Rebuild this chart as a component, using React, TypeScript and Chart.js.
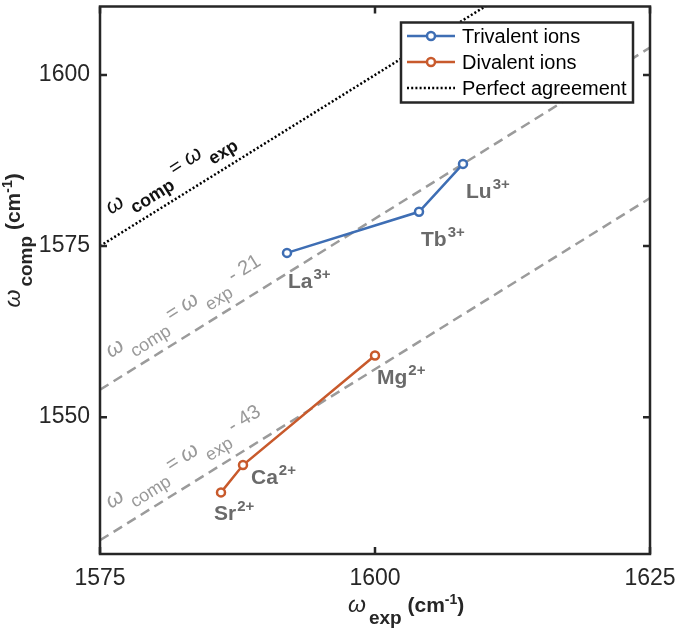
import React, { useEffect, useRef } from "react";
import { Chart, registerables } from "chart.js";

Chart.register(...registerables);

// ---------- data ----------
const trivalentIons = ["La", "Tb", "Lu"];
const trivalentCharge = "3+";
const trivalentExp = [1592, 1604, 1608];
const trivalentComp = [1574, 1580, 1587];

const divalentIons = ["Sr", "Ca", "Mg"];
const divalentCharge = "2+";
const divalentExp = [1586, 1588, 1600];
const divalentComp = [1539, 1543, 1559];

const refOffsets = [0, -21, -43];
const refSuffix = ["", " - 21", " - 43"];
const legendLabels = ["Trivalent ions", "Divalent ions", "Perfect agreement"];

const xRange = [1575, 1625];
const yRange = [1530, 1610];
const xTicks = [1575, 1600, 1625];
const yTicks = [1550, 1575, 1600];
const annotationX = 1575.9;

// ---------- style ----------
const FONT = '"Liberation Sans", Arial, Helvetica, sans-serif';
const AXIS = "#262626";
const BLUE = "#3E6EB4";
const ORANGE = "#C85A2C";
const REF_GRAY = "#9B9B9B";
const LABEL_GRAY = "#6A6A6A";
const triOffsets = [[1, 35], [2, 34], [3, 34]];
const divOffsets = [[-7, 28], [8, 19], [2, 28]];

type Run = { text: string; font: string; dx?: number; dy?: number };

function drawRuns(ctx: CanvasRenderingContext2D, runs: Run[], x: number, y: number) {
  let cx = x;
  for (const r of runs) {
    ctx.font = r.font;
    cx += r.dx || 0;
    ctx.fillText(r.text, cx, y + (r.dy || 0));
    cx += ctx.measureText(r.text).width;
  }
  return cx - x;
}

const framePlugin = {
  id: "frame",
  afterDatasetsDraw(chart: any) {
    const { ctx, chartArea: a, scales } = chart;
    const xs = scales.x, ys = scales.y;
    ctx.save();
    ctx.strokeStyle = AXIS;
    ctx.lineWidth = 2.5;
    ctx.setLineDash([]);
    ctx.strokeRect(a.left, a.top, a.right - a.left, a.bottom - a.top);
    const tl = 7;
    ctx.beginPath();
    for (const v of xTicks) {
      const px = xs.getPixelForValue(v);
      ctx.moveTo(px, a.bottom); ctx.lineTo(px, a.bottom - tl);
      ctx.moveTo(px, a.top); ctx.lineTo(px, a.top + tl);
    }
    for (const v of yTicks) {
      const py = ys.getPixelForValue(v);
      ctx.moveTo(a.left, py); ctx.lineTo(a.left + tl, py);
      ctx.moveTo(a.right, py); ctx.lineTo(a.right - tl, py);
    }
    ctx.stroke();
    ctx.restore();
  },
};

const annotationPlugin = {
  id: "refAnnotations",
  afterDatasetsDraw(chart: any) {
    const { ctx, scales } = chart;
    const xs = scales.x, ys = scales.y;
    refOffsets.forEach((off, i) => {
      const x1 = xs.getPixelForValue(xRange[0]);
      const y1 = ys.getPixelForValue(xRange[0] + off);
      const x2 = xs.getPixelForValue(xRange[1]);
      const y2 = ys.getPixelForValue(xRange[1] + off);
      const ang = Math.atan2(y2 - y1, x2 - x1);
      const px = xs.getPixelForValue(annotationX);
      const py = ys.getPixelForValue(annotationX + off);
      const black = off === 0;
      const w = black ? "bold " : "";
      ctx.save();
      ctx.translate(px, py);
      ctx.rotate(ang);
      ctx.fillStyle = black ? "#111111" : "#999999";
      ctx.textBaseline = "alphabetic";
      const runs: Run[] = [
        { text: "\u03C9", font: `italic 22px ${FONT}` },
        { text: "comp", font: `${w}18px ${FONT}`, dx: 4, dy: 12 },
        { text: " = ", font: `20px ${FONT}` },
        { text: "\u03C9", font: `italic 22px ${FONT}` },
        { text: "exp", font: `${w}18px ${FONT}`, dx: 4, dy: 12 },
      ];
      if (refSuffix[i]) runs.push({ text: refSuffix[i], font: `20px ${FONT}` });
      drawRuns(ctx, runs, 14, -21);
      ctx.restore();
    });
  },
};

const ionLabelPlugin = {
  id: "ionLabels",
  afterDatasetsDraw(chart: any) {
    const { ctx } = chart;
    const groups = [
      { ds: 3, names: trivalentIons, charge: trivalentCharge, offs: triOffsets },
      { ds: 4, names: divalentIons, charge: divalentCharge, offs: divOffsets },
    ];
    ctx.save();
    ctx.fillStyle = LABEL_GRAY;
    ctx.textBaseline = "alphabetic";
    for (const g of groups) {
      const meta = chart.getDatasetMeta(g.ds);
      meta.data.forEach((pt: any, i: number) => {
        drawRuns(
          ctx,
          [
            { text: g.names[i], font: `bold 21px ${FONT}` },
            { text: g.charge, font: `bold 15px ${FONT}`, dx: 1, dy: -9 },
          ],
          pt.x + g.offs[i][0],
          pt.y + g.offs[i][1]
        );
      });
    }
    ctx.restore();
  },
};

const legendPlugin = {
  id: "customLegend",
  afterDraw(chart: any) {
    const { ctx, chartArea: a } = chart;
    const boxW = 232, boxH = 80;
    const left = a.right - 17 - boxW;
    const top = a.top + 16;
    ctx.save();
    ctx.fillStyle = "#ffffff";
    ctx.fillRect(left, top, boxW, boxH);
    ctx.strokeStyle = AXIS;
    ctx.lineWidth = 2.5;
    ctx.setLineDash([]);
    ctx.strokeRect(left, top, boxW, boxH);
    const order = [3, 4, 0];
    order.forEach((dsi, i) => {
      const ds = chart.data.datasets[dsi];
      const y = top + 13.5 + i * 26;
      ctx.strokeStyle = ds.borderColor;
      ctx.lineWidth = ds.borderWidth;
      ctx.setLineDash(ds.borderDash || []);
      ctx.beginPath();
      ctx.moveTo(left + 6, y);
      ctx.lineTo(left + 54, y);
      ctx.stroke();
      ctx.setLineDash([]);
      if (ds.pointRadius > 0) {
        ctx.beginPath();
        ctx.arc(left + 30, y, ds.pointRadius, 0, Math.PI * 2);
        ctx.fillStyle = "#ffffff";
        ctx.fill();
        ctx.lineWidth = ds.pointBorderWidth;
        ctx.stroke();
      }
      ctx.fillStyle = "#000000";
      ctx.font = `20px ${FONT}`;
      ctx.textBaseline = "middle";
      ctx.fillText(legendLabels[i], left + 61, y + 1);
    });
    ctx.restore();
  },
};

const axisTitlePlugin = {
  id: "axisTitles",
  afterDraw(chart: any) {
    const { ctx, chartArea: a } = chart;
    ctx.save();
    ctx.fillStyle = AXIS;
    ctx.textBaseline = "alphabetic";
    const runs = (sub: string): Run[] => [
      { text: "\u03C9", font: `italic 23px ${FONT}` },
      { text: sub, font: `bold 19px ${FONT}`, dx: 3, dy: 12 },
      { text: " (cm", font: `bold 21px ${FONT}` },
      { text: "-1", font: `bold 14px ${FONT}`, dy: -8 },
      { text: ")", font: `bold 21px ${FONT}` },
    ];
    drawRuns(ctx, runs("exp"), a.left + 248, a.bottom + 58);
    ctx.translate(a.left - 80, a.top + 301);
    ctx.rotate(-Math.PI / 2);
    drawRuns(ctx, runs("comp"), 0, 0);
    ctx.restore();
  },
};

export default function App() {
  const ref = useRef<HTMLCanvasElement | null>(null);
  useEffect(() => {
    if (!ref.current) return;
    const refData = refOffsets.map((off) =>
      xRange.map((x) => ({ x, y: x + off }))
    );
    const chart = new Chart(ref.current, {
      type: "scatter",
      data: {
        datasets: [
          ...refData.map((d, i) => ({
            label: i === 0 ? legendLabels[2] : `ref${i}`,
            data: d,
            showLine: true,
            borderColor: i === 0 ? "#000000" : REF_GRAY,
            borderWidth: 2.5,
            borderDash: i === 0 ? [2, 2.2] : [10, 6],
            pointRadius: 0,
            pointHoverRadius: 0,
            clip: 0,
            order: 5,
          })),
          {
            label: legendLabels[0],
            data: trivalentExp.map((x, i) => ({ x, y: trivalentComp[i] })),
            showLine: true,
            borderColor: BLUE,
            backgroundColor: "#ffffff",
            borderWidth: 2.5,
            pointRadius: 4,
            pointBorderWidth: 2.5,
            pointBackgroundColor: "#ffffff",
            pointBorderColor: BLUE,
            order: 1,
          },
          {
            label: legendLabels[1],
            data: divalentExp.map((x, i) => ({ x, y: divalentComp[i] })),
            showLine: true,
            borderColor: ORANGE,
            backgroundColor: "#ffffff",
            borderWidth: 2.5,
            pointRadius: 4,
            pointBorderWidth: 2.5,
            pointBackgroundColor: "#ffffff",
            pointBorderColor: ORANGE,
            order: 1,
          },
        ],
      },
      options: {
        animation: false,
        responsive: false,
        maintainAspectRatio: false,
        events: [],
        layout: { padding: { top: 4, right: 27, left: 0, bottom: 0 } },
        plugins: { legend: { display: false }, tooltip: { enabled: false } },
        scales: {
          x: {
            type: "linear",
            min: xRange[0],
            max: xRange[1],
            afterBuildTicks: (s: any) => {
              s.ticks = xTicks.map((v) => ({ value: v }));
            },
            afterFit: (s: any) => {
              s.height = 80;
              s.paddingLeft = 0;
              s.paddingRight = 0;
              s.paddingTop = 0;
              s.paddingBottom = 0;
            },
            grid: { display: false, drawTicks: false },
            border: { display: false },
            ticks: {
              autoSkip: false,
              maxRotation: 0,
              padding: 11,
              color: AXIS,
              font: { family: FONT, size: 23 },
              callback: (v: any) => String(v),
            },
          },
          y: {
            type: "linear",
            min: yRange[0],
            max: yRange[1],
            afterBuildTicks: (s: any) => {
              s.ticks = yTicks.map((v) => ({ value: v }));
            },
            afterFit: (s: any) => {
              s.width = 100;
              s.paddingLeft = 0;
              s.paddingRight = 0;
              s.paddingTop = 0;
              s.paddingBottom = 0;
            },
            grid: { display: false, drawTicks: false },
            border: { display: false },
            ticks: {
              autoSkip: false,
              padding: 10,
              color: AXIS,
              font: { family: FONT, size: 23 },
              callback: (v: any) => String(v),
            },
          },
        },
      },
      plugins: [framePlugin, annotationPlugin, ionLabelPlugin, legendPlugin, axisTitlePlugin],
    } as any);
    return () => chart.destroy();
  }, []);
  return (
    <div style={{ position: "absolute", left: 0, top: 0, width: 677, height: 634, background: "#fff" }}>
      <canvas ref={ref} width={677} height={634} style={{ width: 677, height: 634 }} />
    </div>
  );
}
